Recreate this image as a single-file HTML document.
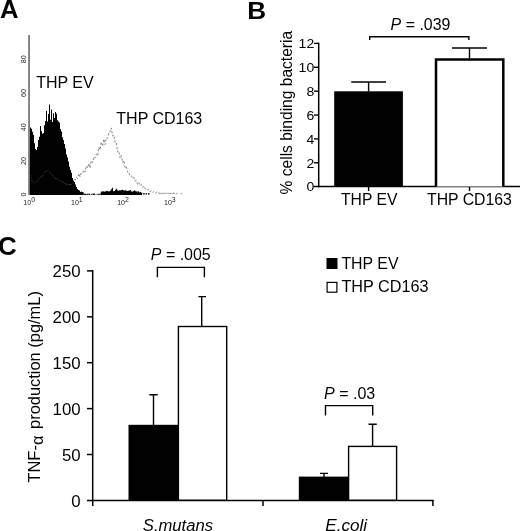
<!DOCTYPE html>
<html><head><meta charset="utf-8"><title>Figure</title>
<style>html,body{margin:0;padding:0;background:#fff;}body{width:520px;height:531px;overflow:hidden;font-family:"Liberation Sans",sans-serif;}svg{display:block;}</style></head>
<body>
<svg width="520" height="531" viewBox="0 0 520 531">
<rect width="520" height="531" fill="#fff"/>
<g font-family="'Liberation Sans', sans-serif" fill="#000" opacity="0.999">
<text transform="translate(0.1,18.1) scale(1.07,1.04)" font-size="24" font-weight="bold">A</text>
<text transform="translate(247.2,18.5) scale(1.09,1.0)" font-size="24" font-weight="bold">B</text>
<text transform="translate(-1.9,254.9) scale(1.08,1.07)" font-size="24" font-weight="bold">C</text>
<path d="M29.6,194.9 L30.0,127.4 L31.0,127.4 L31.0,128.7 L32.0,128.7 L32.0,131.7 L33.0,131.7 L33.0,135.1 L34.0,135.1 L34.0,143.2 L35.0,143.2 L35.0,148.9 L36.0,148.9 L36.0,150.1 L37.0,150.1 L37.0,147.0 L38.0,147.0 L38.0,140.0 L39.0,140.0 L39.0,136.7 L40.0,136.7 L40.0,126.1 L41.0,126.1 L41.0,131.2 L42.0,131.2 L42.0,133.7 L43.0,133.7 L43.0,133.0 L44.0,133.0 L44.0,125.2 L45.0,125.2 L45.0,120.9 L46.0,120.9 L46.0,111.1 L47.0,111.1 L47.0,121.5 L48.0,121.5 L48.0,114.1 L49.0,114.1 L49.0,104.4 L50.0,104.4 L50.0,119.8 L51.0,119.8 L51.0,109.5 L52.0,109.5 L52.0,121.9 L53.0,121.9 L53.0,113.2 L54.0,113.2 L54.0,118.1 L55.0,118.1 L55.0,112.0 L56.0,112.0 L56.0,113.7 L57.0,113.7 L57.0,120.3 L58.0,120.3 L58.0,121.5 L59.0,121.5 L59.0,122.4 L60.0,122.4 L60.0,129.0 L61.0,129.0 L61.0,131.4 L62.0,131.4 L62.0,137.2 L63.0,137.2 L63.0,139.9 L64.0,139.9 L64.0,143.9 L65.0,143.9 L65.0,148.5 L66.0,148.5 L66.0,154.6 L67.0,154.6 L67.0,157.6 L68.0,157.6 L68.0,161.5 L69.0,161.5 L69.0,166.7 L70.0,166.7 L70.0,170.0 L71.0,170.0 L71.0,172.7 L72.0,172.7 L72.0,177.9 L73.0,177.9 L73.0,180.5 L74.0,180.5 L74.0,182.1 L75.0,182.1 L75.0,184.6 L76.0,184.6 L76.0,186.9 L77.0,186.9 L77.0,189.1 L78.0,189.1 L78.0,189.9 L79.0,189.9 L79.0,190.4 L80.0,190.4 L80.0,191.9 L81.0,191.9 L81.0,191.5 L82.0,191.5 L82.0,192.0 L83.0,192.0 L83.0,192.5 L84.0,192.5 L83.6,194.7 L84.3,194.7 L84.3,193.5 L85.0,193.5 L85.0,193.7 L85.7,193.7 L85.7,193.7 L86.4,193.7 L86.4,194.7 L87.1,194.7 L87.1,193.5 L87.8,193.5 L87.8,194.7 L88.5,194.7 L88.5,193.5 L89.2,193.5 L89.2,193.7 L89.9,193.7 L89.9,194.7 L90.6,194.7 L90.6,194.7 L91.3,194.7 L91.3,193.7 L92.0,193.7 L92.0,194.7 L92.7,194.7 L92.7,193.5 L93.4,193.5 L93.4,193.5 L94.1,193.5 L94.1,193.5 L94.8,193.5 L94.8,194.7 L95.5,194.7 L95.5,194.7 L96.2,194.7 L96.2,194.7 L96.9,194.7 L96.9,193.7 L97.6,193.7 L97.6,194.7 L98.3,194.7 L98.3,193.7 L99.0,193.7 L99.0,193.7 L99.7,193.7 L99.7,194.7 L100.4,194.7 L100.4,192.7 L101.1,192.7 L101.1,191.4 L101.8,191.4 L101.8,191.4 L102.5,191.4 L102.5,191.4 L103.2,191.4 L103.2,191.3 L103.9,191.3 L103.9,191.6 L104.6,191.6 L104.6,191.7 L105.3,191.7 L105.3,191.2 L106.0,191.2 L106.0,190.7 L106.7,190.7 L106.7,191.3 L107.4,191.3 L107.4,191.1 L108.1,191.1 L108.1,191.3 L108.8,191.3 L108.8,191.7 L109.5,191.7 L109.5,191.1 L110.2,191.1 L110.2,190.6 L110.9,190.6 L110.9,189.5 L111.6,189.5 L111.6,188.5 L112.3,188.5 L112.3,187.4 L113.0,187.4 L113.0,191.2 L113.7,191.2 L113.7,191.0 L114.4,191.0 L114.4,191.1 L115.1,191.1 L115.1,189.9 L115.8,189.9 L115.8,188.4 L116.5,188.4 L116.5,189.3 L117.2,189.3 L117.2,190.3 L117.9,190.3 L117.9,191.1 L118.6,191.1 L118.6,190.2 L119.3,190.2 L119.3,190.2 L120.0,190.2 L120.0,190.4 L120.7,190.4 L120.7,190.1 L121.4,190.1 L121.4,190.2 L122.1,190.2 L122.1,189.6 L122.8,189.6 L122.8,189.9 L123.5,189.9 L123.5,190.4 L124.2,190.4 L124.2,190.5 L124.9,190.5 L124.9,190.5 L125.6,190.5 L125.6,189.7 L126.3,189.7 L126.3,191.0 L127.0,191.0 L127.0,190.9 L127.7,190.9 L127.7,190.6 L128.4,190.6 L128.4,190.7 L129.1,190.7 L129.1,190.6 L129.8,190.6 L129.8,190.3 L130.5,190.3 L130.5,190.1 L131.2,190.1 L131.2,191.5 L131.9,191.5 L131.9,191.9 L132.6,191.9 L132.6,191.1 L133.3,191.1 L133.3,191.0 L134.0,191.0 L134.0,190.2 L134.7,190.2 L134.7,190.5 L135.4,190.5 L135.4,191.2 L136.1,191.2 L136.1,191.3 L136.8,191.3 L136.8,192.2 L137.5,192.2 L137.5,191.3 L138.2,191.3 L138.2,191.2 L138.9,191.2 L138.9,192.6 L139.6,192.6 L139.6,192.1 L140.3,192.1 L140.3,191.7 L141.0,191.7 L141.0,192.7 L141.7,192.7 L141.7,192.4 L142.4,192.4 L142,194.9 Z" fill="#000"/>
<path d="M29.5,172.2 L30.4,176.9 L31.3,177.7 L32.2,181.1 L33.1,181.6 L34.0,182.3 L34.9,181.4 L35.8,182.3 L36.7,180.4 L37.6,181.1 L38.5,179.1 L39.4,178.9 L40.3,176.9 L41.2,177.8 L42.1,175.0 L43.0,175.8 L43.9,172.8 L44.8,173.1 L45.7,171.0 L46.6,171.0 L47.5,170.0 L48.4,171.6 L49.3,172.1 L50.2,173.6 L51.1,173.7 L52.0,175.7 L52.9,174.9 L53.8,177.3 L54.7,176.8 L55.6,179.4 L56.5,178.0 L57.4,180.1 L58.3,179.8 L59.2,180.9 L60.1,180.7 L61.0,181.8 L61.9,181.3 L62.8,183.2 L63.7,181.7 L64.6,183.4 L65.5,182.5 L66.4,184.4 L67.3,183.7 L68.2,185.0 L69.1,183.7 L70.0,185.8 L70.9,183.6 L71.8,184.4 L72.7,182.9 L73.6,182.8 L74.5,179.9 " fill="none" stroke="#5c5c5c" stroke-width="0.9" stroke-dasharray="0.9 1.9"/>
<path d="M74.5,179.5 L75.4,180.1 L76.3,177.2 L77.6,178.4 L78.8,173.7 L80.1,176.9 L81.3,172.8 L82.6,172.9 L83.8,170.0 L85.1,172.1 L86.3,165.8 L87.6,168.0 L88.8,163.4 L90.1,168.0 L91.3,160.6 L92.6,162.4 L93.8,156.7 L95.1,157.8 L96.3,154.2 L97.6,156.0 L98.8,147.2 L100.1,149.8 L101.3,141.9 L102.6,146.3 L103.8,139.0 L105.1,144.7 L106.3,137.7 L107.6,138.3 L108.8,132.4 L110.1,131.6 L111.3,127.9 L112.6,135.9 L113.8,134.9 L115.1,142.7 L116.3,142.5 L117.6,151.8 L118.8,150.8 L120.1,158.0 L121.3,155.2 L122.6,162.6 L123.8,160.4 L125.1,167.8 L126.3,166.7 L127.6,172.2 L128.8,172.0 L130.1,175.9 L131.3,175.7 L132.6,178.2 L133.8,177.2 L135.1,181.0 L136.3,180.4 L137.6,184.4 L138.8,182.6 L140.1,185.5 L141.3,184.5 L142.6,187.5 L143.8,186.0 L145.1,188.6 L146.3,188.0 L147.6,190.0 L148.8,189.7 L150.1,191.8 L151.3,190.9 L152.6,192.7 L153.8,191.6 L155.1,193.3 L156.3,192.3 L157.6,193.5 L158.8,192.8 L160.1,193.6 L161.3,193.1 L162.6,193.6 L163.8,193.2 L165.1,193.6 L166.3,193.0 L167.6,193.6 L168.8,193.1 L170.1,193.6 L171.3,193.4 L172.6,193.6 L173.8,193.1 L175.1,193.6 " fill="none" stroke="#858585" stroke-width="1.0" stroke-dasharray="2.3 1.7"/>
<rect x="143.2" y="193.0" width="1.5" height="1.6" fill="#222"/><rect x="145.6" y="193.0" width="1.5" height="1.6" fill="#222"/><rect x="148.0" y="193.0" width="1.5" height="1.6" fill="#222"/><rect x="160.0" y="192.8" width="1.8" height="1.3" fill="#b5b5b5"/><rect x="163.5" y="192.8" width="1.8" height="1.3" fill="#b5b5b5"/><rect x="168.0" y="192.8" width="1.8" height="1.3" fill="#b5b5b5"/><rect x="171.5" y="192.8" width="1.8" height="1.3" fill="#b5b5b5"/><rect x="176.0" y="192.8" width="1.8" height="1.3" fill="#b5b5b5"/><rect x="180.5" y="192.8" width="1.8" height="1.3" fill="#b5b5b5"/>
<line x1="29.05" y1="35.1" x2="29.05" y2="195" stroke="#5e5e5e" stroke-width="1.5"/>
<text x="36.2" y="88.2" font-size="16">THP EV</text>
<text x="116.3" y="123.8" font-size="16">THP CD163</text>
<text transform="translate(26,59.2) rotate(-90)" font-size="7.2" text-anchor="middle" fill="#222">80</text>
<text transform="translate(26,93.0) rotate(-90)" font-size="7.2" text-anchor="middle" fill="#222">60</text>
<text transform="translate(26,127.3) rotate(-90)" font-size="7.2" text-anchor="middle" fill="#222">40</text>
<text transform="translate(26,161.0) rotate(-90)" font-size="7.2" text-anchor="middle" fill="#222">20</text>
<text transform="translate(26,194.5) rotate(-90)" font-size="7.2" text-anchor="middle" fill="#222">0</text>
<text x="29.2" y="205.3" font-size="7" text-anchor="middle" fill="#222">10<tspan dy="-3.2" font-size="7">0</tspan></text>
<text x="76.9" y="205.3" font-size="7" text-anchor="middle" fill="#222">10<tspan dy="-3.2" font-size="7">1</tspan></text>
<text x="123.0" y="205.3" font-size="7" text-anchor="middle" fill="#222">10<tspan dy="-3.2" font-size="7">2</tspan></text>
<text x="169.9" y="205.3" font-size="7" text-anchor="middle" fill="#222">10<tspan dy="-3.2" font-size="7">3</tspan></text>
<g stroke="#000" fill="none">
<line x1="318.7" y1="42.7" x2="318.7" y2="187.3" stroke-width="1.5"/>
<line x1="314" y1="186.6" x2="520" y2="186.6" stroke-width="1.5"/>
<line x1="314" y1="162.78" x2="319" y2="162.78" stroke-width="1.4"/>
<line x1="314" y1="138.90" x2="319" y2="138.90" stroke-width="1.4"/>
<line x1="314" y1="115.03" x2="319" y2="115.03" stroke-width="1.4"/>
<line x1="314" y1="91.15" x2="319" y2="91.15" stroke-width="1.4"/>
<line x1="314" y1="67.28" x2="319" y2="67.28" stroke-width="1.4"/>
<line x1="314" y1="43.40" x2="319" y2="43.40" stroke-width="1.4"/>
<line x1="368.6" y1="186" x2="368.6" y2="191" stroke-width="1.4"/>
<line x1="469.5" y1="186" x2="469.5" y2="191" stroke-width="1.4"/>
</g>
<rect x="334.2" y="91.3" width="68.7" height="95.5" fill="#000"/>
<path d="M436,186.6 V59.5 H503.3 V186.6" fill="#fff" stroke="#000" stroke-width="2.5"/>
<g stroke="#000" stroke-width="1.4" fill="none">
<path d="M368.6,91.5 V82 M351.2,82 H386"/>
<path d="M469.5,58.5 V48 M452,48 H487"/>
<path d="M369.7,40 V36.8 H468.9 V40"/>
</g>
<text transform="translate(390.6,30) scale(1.01,1)" font-size="15.8"><tspan font-style="italic">P</tspan> = .039</text>
<text transform="translate(314.2,191.45) scale(1.04,1)" font-size="13.5" text-anchor="end">0</text>
<text transform="translate(314.2,167.58) scale(1.04,1)" font-size="13.5" text-anchor="end">2</text>
<text transform="translate(314.2,143.70) scale(1.04,1)" font-size="13.5" text-anchor="end">4</text>
<text transform="translate(314.2,119.83) scale(1.04,1)" font-size="13.5" text-anchor="end">6</text>
<text transform="translate(314.2,95.95) scale(1.04,1)" font-size="13.5" text-anchor="end">8</text>
<text transform="translate(314.2,72.08) scale(1.04,1)" font-size="13.5" text-anchor="end">10</text>
<text transform="translate(314.2,48.20) scale(1.04,1)" font-size="13.5" text-anchor="end">12</text>
<text x="341.0" y="204.8" font-size="15.7">THP EV</text>
<text x="427.0" y="204.8" font-size="15.8">THP CD163</text>
<text transform="translate(292.3,194.4) rotate(-90) scale(1,1.03)" font-size="15.57">% cells binding bacteria</text>
<g stroke="#000" fill="none" stroke-width="1.5">
<line x1="92.7" y1="270" x2="92.7" y2="506"/>
<line x1="87" y1="500.40" x2="433.6" y2="500.40"/>
<line x1="87" y1="454.50" x2="93" y2="454.50"/>
<line x1="87" y1="408.60" x2="93" y2="408.60"/>
<line x1="87" y1="362.70" x2="93" y2="362.70"/>
<line x1="87" y1="316.80" x2="93" y2="316.80"/>
<line x1="87" y1="270.90" x2="93" y2="270.90"/>
<line x1="263" y1="500" x2="263" y2="506"/>
<line x1="432.9" y1="500" x2="432.9" y2="506"/>
</g>
<rect x="128.5" y="424.8" width="50" height="75.5" fill="#000"/>
<rect x="178.4" y="326.5" width="48.3" height="173.7" fill="#fff" stroke="#000" stroke-width="1.4"/>
<rect x="298.8" y="476.6" width="50" height="23.7" fill="#000"/>
<rect x="348.6" y="446.4" width="48" height="53.8" fill="#fff" stroke="#000" stroke-width="1.4"/>
<g stroke="#000" stroke-width="1.4" fill="none">
<path d="M153.5,425 V394.8 M149.3,394.8 H157.7"/>
<path d="M201.7,326 V296.6 M198.4,296.6 H206"/>
<path d="M324,477 V473.4 M320,473.4 H328"/>
<path d="M372.6,446 V424.3 M368.5,424.3 H376.8"/>
<path d="M157.4,277.2 V267.4 H204.4 V277.2"/>
<path d="M325.5,415.6 V405.6 H372.7 V415.6"/>
</g>
<text transform="translate(150.80,260.00) scale(1.012,1)" font-size="15.8" text-anchor="start"><tspan font-style="italic">P</tspan> = .005</text>
<text transform="translate(324.00,399.00) scale(1.015,1)" font-size="15.8" text-anchor="start"><tspan font-style="italic">P</tspan> = .03</text>
<text transform="translate(80.60,506.50) scale(1.050,1)" font-size="16" text-anchor="end">0</text>
<text transform="translate(80.60,460.60) scale(1.050,1)" font-size="16" text-anchor="end">50</text>
<text transform="translate(80.60,414.70) scale(1.050,1)" font-size="16" text-anchor="end">100</text>
<text transform="translate(80.60,368.80) scale(1.050,1)" font-size="16" text-anchor="end">150</text>
<text transform="translate(80.60,322.90) scale(1.050,1)" font-size="16" text-anchor="end">200</text>
<text transform="translate(80.60,277.00) scale(1.050,1)" font-size="16" text-anchor="end">250</text>
<text transform="translate(142.80,530.70) scale(1.040,1)" font-size="16" text-anchor="start" font-style="italic">S.mutans</text>
<text transform="translate(325.20,530.70) scale(1.060,1)" font-size="16.2" text-anchor="start" font-style="italic">E.coli</text>
<text transform="translate(39.7,482.7) rotate(-90) scale(1.034,1.03)" font-size="16">TNF-<tspan dy="2.8">α</tspan></text>
<text transform="translate(39.7,428.9) rotate(-90) scale(1.027,1.03)" font-size="16">production (pg/mL)</text>
<rect x="326.5" y="258" width="11" height="11" fill="#000"/>
<rect x="327.1" y="282.4" width="9.8" height="9.8" fill="#fff" stroke="#000" stroke-width="1.2"/>
<text transform="translate(341.40,268.60) scale(1.020,1)" font-size="15.6" text-anchor="start">THP EV</text>
<text transform="translate(341.40,292.40) scale(1.040,1)" font-size="15.6" text-anchor="start">THP CD163</text>
</g></svg>
</body></html>
